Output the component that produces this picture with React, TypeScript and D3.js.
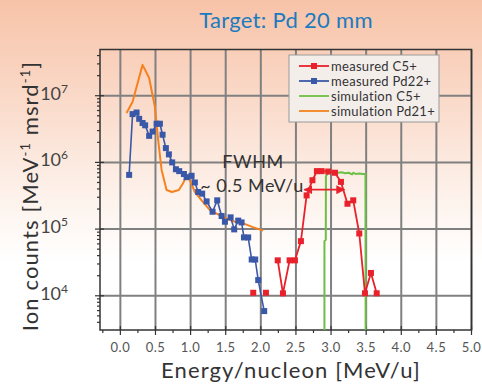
import React from "react";
import * as d3 from "d3";

// measured Pd22+ (blue squares)
const blueX = [0.125, 0.174, 0.231, 0.268, 0.316, 0.353, 0.41, 0.459, 0.516, 0.563, 0.601, 0.648, 0.691, 0.738, 0.791, 0.838, 0.905, 0.943, 1.014, 1.061, 1.108, 1.165, 1.228, 1.313, 1.379, 1.442, 1.489, 1.57, 1.621, 1.678, 1.726, 1.76, 1.82, 1.87, 1.92, 1.963, 2.048];
const blueY = [6.5e5, 5.3e6, 5.6e6, 4.5e6, 3.9e6, 3.6e6, 2.5e6, 2.9e6, 3.8e6, 3.8e6, 2.6e6, 1.64e6, 1.32e6, 1.0e6, 7.9e5, 7.4e5, 6.7e5, 6.0e5, 6.3e5, 5.0e5, 3.6e5, 3.4e5, 2.6e5, 1.82e5, 2.7e5, 1.57e5, 1.29e5, 1.5e5, 9.9e4, 1.34e5, 1.26e5, 7.5e4, 7.5e4, 3.5e4, 3.5e4, 1.72e4, 5.9e3];

// measured C5+ (red squares), null = gap in the line
const redX = [1.892, 1.98, 2.073, 2.16, 2.241, 2.315, 2.41, 2.486, 2.571, 2.652, 2.735, 2.799, 2.866, 2.96, 3.056, 3.141, 3.234, 3.316, 3.402, 3.483, 3.568, 3.65];
const redY = [1.11e4, null, 1.11e4, null, 3.4e4, 1.09e4, 3.4e4, 3.4e4, 6.6e4, 3.2e5, 5.4e5, 7.4e5, 7.4e5, 7.3e5, 7.0e5, 5.1e5, 2.4e5, 2.7e5, 8.6e4, 1.09e4, 2.2e4, 1.09e4];

// simulation C5+ (green)
const greenX = [2.906, 2.906, 2.925, 2.927, 2.97, 3.05, 3.1, 3.15, 3.2, 3.25, 3.3, 3.32, 3.35, 3.4, 3.45, 3.49, 3.493];
const greenY = [1e3, 6.6e4, 6.9e4, 6.2e5, 7.2e5, 7.1e5, 7.0e5, 7.1e5, 6.9e5, 7.0e5, 6.6e5, 7.0e5, 6.7e5, 6.8e5, 6.7e5, 6.7e5, 1e3];

// simulation Pd21+ (orange)
const orangeX = [0.088, 0.174, 0.316, 0.41, 0.491, 0.538, 0.587, 0.658, 0.734, 0.833, 0.895, 0.943, 0.99, 1.061, 1.157, 1.275, 1.46, 1.631, 1.749, 1.887, 2.034];
const orangeY = [5.5e6, 8.1e6, 2.9e7, 1.84e7, 6.8e6, 2.17e6, 7.7e5, 3.86e5, 3.6e5, 3.86e5, 4.9e5, 6.5e5, 5.4e5, 3.6e5, 2.7e5, 1.93e5, 1.52e5, 1.29e5, 1.22e5, 1.07e5, 9.5e4];

const xTicks = [0, 0.5, 1, 1.5, 2, 2.5, 3, 3.5, 4, 4.5, 5];
const xMinor = [-0.25, 0.25, 0.75, 1.25, 1.75, 2.25, 2.75, 3.25, 3.75, 4.25, 4.75];
const yDecades = [4, 5, 6, 7];

const fwhmX = [2.62, 3.19];
const fwhmY = 3.9e5;

const legendItems = [
  { label: "measured C5+", color: "#e8212b", marker: true },
  { label: "measured Pd22+", color: "#3a58a8", marker: true },
  { label: "simulation C5+", color: "#6cbf45", marker: false },
  { label: "simulation Pd21+", color: "#f5821f", marker: false },
];

const FONT = "Lato, 'Open Sans', sans-serif";

export default function App() {
  const left = 100, right = 471.5, top = 49.5, bottom = 330;
  const x = d3.scaleLinear().domain([-0.29, 5.0]).range([left, right]);
  const y = d3.scaleLog().domain([10 ** 3.487, 10 ** 7.693]).range([bottom, top]);

  const mk = (xs: number[], ys: (number | null)[]) =>
    xs.map((v, i) => ({ x: v, y: ys[i] }));
  const line = d3
    .line<{ x: number; y: number | null }>()
    .defined((d) => d.y != null)
    .x((d) => x(d.x))
    .y((d) => y(d.y as number));

  const blue = mk(blueX, blueY);
  const red = mk(redX, redY);
  const green = mk(greenX, greenY);
  const orange = mk(orangeX, orangeY);

  const minorY: number[] = [];
  for (let e = 3; e <= 7; e++) for (let m = 2; m <= 9; m++) {
    const v = m * 10 ** e;
    if (v >= y.domain()[0] && v <= y.domain()[1]) minorY.push(v);
  }

  const sq = 6;
  const fy = y(fwhmY);

  return (
    <svg width={482} height={385} style={{ position: "fixed", left: 0, top: 0 }} fontFamily={FONT}>
      <defs>
        <linearGradient id="bg" x1="0" y1="0" x2="0" y2="1">
          <stop offset="0%" stopColor="#f7c3a8" />
          <stop offset="25%" stopColor="#fad9c8" />
          <stop offset="50%" stopColor="#fdf1ea" />
          <stop offset="68%" stopColor="#ffffff" />
        </linearGradient>
        <clipPath id="plot">
          <rect x={left} y={top} width={right - left} height={bottom - top} />
        </clipPath>
        <marker id="arr" viewBox="0 0 10 10" refX="9" refY="5" markerWidth="5" markerHeight="5" orient="auto-start-reverse">
          <path d="M0,0 L10,5 L0,10 z" fill="#e8212b" />
        </marker>
      </defs>
      <rect width={482} height={385} fill="url(#bg)" />

      <text x={286} y={28} textAnchor="middle" fontSize={22} fill="#1b7bc0" letterSpacing={0.3}>Target: Pd 20 mm</text>

      {/* grid */}
      <g stroke="#808080" strokeWidth={2}>
        {xTicks.map((t) => (
          <line key={t} x1={x(t)} x2={x(t)} y1={top} y2={bottom} />
        ))}
        {yDecades.map((e) => (
          <line key={e} x1={left} x2={right} y1={y(10 ** e)} y2={y(10 ** e)} />
        ))}
      </g>

      {/* frame and ticks */}
      <rect x={left} y={top} width={right - left} height={bottom - top} fill="none" stroke="#333" strokeWidth={1.5} />
      <g stroke="#333" strokeWidth={1.2}>
        {xTicks.map((t) => (
          <line key={t} x1={x(t)} x2={x(t)} y1={bottom - 4} y2={bottom + 5} />
        ))}
        {xMinor.map((t) => (
          <line key={t} x1={x(t)} x2={x(t)} y1={bottom} y2={bottom + 3} />
        ))}
        {yDecades.map((e) => (
          <line key={e} x1={left - 5} x2={left + 4} y1={y(10 ** e)} y2={y(10 ** e)} />
        ))}
        {minorY.map((v) => (
          <line key={v} x1={left - 3} x2={left} y1={y(v)} y2={y(v)} />
        ))}
      </g>

      {/* tick labels */}
      <g fontSize={13} fill="#555" textAnchor="middle" letterSpacing={0.5}>
        {xTicks.map((t) => (
          <text key={t} x={x(t)} y={352}>{t.toFixed(1)}</text>
        ))}
      </g>
      <g fontSize={18} fill="#444" textAnchor="end">
        {yDecades.map((e) => (
          <text key={e} x={68} y={y(10 ** e) + 4}>
            10<tspan fontSize={12} dy={-7}>{e}</tspan>
          </text>
        ))}
      </g>

      {/* axis titles */}
      <text x={291} y={378} textAnchor="middle" fontSize={22} fill="#333" letterSpacing={1.1}>Energy/nucleon [MeV/u]</text>
      <text transform="translate(38,196) rotate(-90)" textAnchor="middle" fontSize={22} fill="#333" letterSpacing={1.1}>
        Ion counts [MeV<tspan fontSize={13} dy={-8}>-1</tspan>
        <tspan dy={8}> msrd</tspan>
        <tspan fontSize={13} dy={-8}>-1</tspan>
        <tspan dy={8}>]</tspan>
      </text>

      {/* series */}
      <g clipPath="url(#plot)" fill="none" strokeLinejoin="round">
        <path d={line(orange) || ""} stroke="#f5821f" strokeWidth={2} />
        <path d={line(green) || ""} stroke="#6cbf45" strokeWidth={2} />
        <path d={line(blue) || ""} stroke="#3a58a8" strokeWidth={1.6} />
        <path d={line(red) || ""} stroke="#e8212b" strokeWidth={1.8} />
        {blue.map((d, i) => (
          <rect key={"b" + i} x={x(d.x) - sq / 2} y={y(d.y as number) - sq / 2} width={sq} height={sq} fill="#3a58a8" />
        ))}
        {red.filter((d) => d.y != null).map((d, i) => (
          <rect key={"r" + i} x={x(d.x) - sq / 2} y={y(d.y as number) - sq / 2} width={sq} height={sq} fill="#e8212b" />
        ))}
      </g>

      {/* FWHM annotation */}
      <line x1={x(fwhmX[0])} x2={x(fwhmX[1])} y1={fy} y2={fy} stroke="#e8212b" strokeWidth={1.8} markerStart="url(#arr)" markerEnd="url(#arr)" />
      <text x={253} y={168} textAnchor="middle" fontSize={18} fill="#333" letterSpacing={0.5}>FWHM</text>
      <text x={252} y={192} textAnchor="middle" fontSize={18} fill="#333" letterSpacing={0.5}>~ 0.5 MeV/u</text>

      {/* legend */}
      <rect x={289} y={55} width={150} height={67} fill="#f4eeeb" stroke="#999" strokeWidth={1} />
      {legendItems.map((it, i) => {
        const ly = 66 + i * 15;
        return (
          <g key={it.label}>
            <line x1={299} x2={329} y1={ly} y2={ly} stroke={it.color} strokeWidth={1.8} />
            {it.marker && <rect x={311} y={ly - 3} width={6} height={6} fill={it.color} />}
            <text x={331} y={ly + 4.5} fontSize={13} fill="#333" letterSpacing={0.3}>{it.label}</text>
          </g>
        );
      })}
    </svg>
  );
}
